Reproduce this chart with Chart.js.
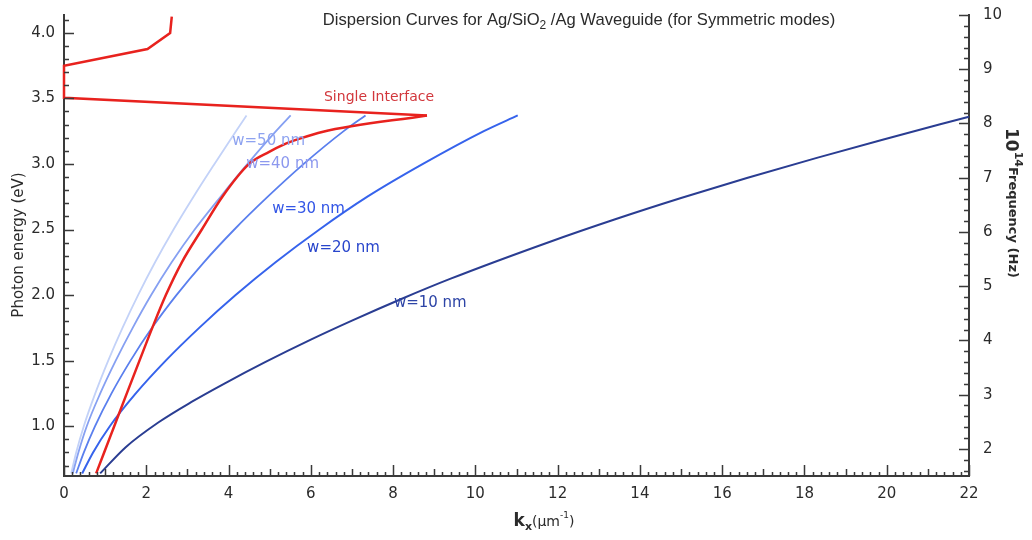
<!DOCTYPE html>
<html>
<head>
<meta charset="utf-8">
<script src="https://cdn.jsdelivr.net/npm/chart.js@4.4.1/dist/chart.umd.min.js"></script>
<style>
  html, body { margin: 0; padding: 0; background: #fff; }
  canvas { display: block; }
</style>
</head>
<body>
<canvas id="dispersion" width="1032" height="540"></canvas>
<script>
// photon energy (eV) -> frequency in units of 1e14 Hz
const EV_TO_FREQ = 2.418;
const freqMin = 1.5;
const freqMax = 10;

const xTicks = [0, 2, 4, 6, 8, 10, 12, 14, 16, 18, 20, 22];
const energyTicks = [1.0, 1.5, 2.0, 2.5, 3.0, 3.5, 4.0];
const freqTicks = [2, 3, 4, 5, 6, 7, 8, 9, 10];

// symmetric mode, core width 10 nm
const kW10 = [0.88, 1.5, 2.3, 3.1, 3.9, 4.9, 6.0, 7.0, 8.2, 9.4, 11.8, 13.4, 15.0, 16.6, 18.3, 19.9, 22.0];
const eW10 = [0.64, 0.84, 1.03, 1.185, 1.325, 1.49, 1.66, 1.805, 1.97, 2.125, 2.405, 2.578, 2.74, 2.893, 3.046, 3.185, 3.36];

// the wider cores share the same energy samples
const eWide = [0.64, 0.8, 1.0, 1.25, 1.5, 1.75, 2.0, 2.25, 2.5, 2.75, 3.0, 3.25, 3.37];
const kW20 = [0.442, 0.707, 1.114, 1.745, 2.473, 3.286, 4.172, 5.143, 6.209, 7.376, 8.726, 10.206, 11.03];
const kW30 = [0.296, 0.483, 0.755, 1.155, 1.617, 2.138, 2.733, 3.400, 4.141, 4.954, 5.828, 6.799, 7.330];
const kW40 = [0.214, 0.350, 0.553, 0.881, 1.257, 1.670, 2.119, 2.617, 3.177, 3.806, 4.461, 5.153, 5.510];
const kW50 = [0.175, 0.296, 0.481, 0.760, 1.075, 1.422, 1.801, 2.214, 2.663, 3.148, 3.658, 4.180, 4.437];

// single Ag/SiO2 interface: bound branch, then the back-bending part above it
const kSingleLow = [0.782, 0.976, 1.221, 1.527, 1.835, 2.146, 2.476, 2.864, 3.350, 3.850, 4.500, 4.988, 5.352, 5.716, 6.274, 8.823];
const eSingleLow = [0.64, 0.8, 1.0, 1.25, 1.5, 1.75, 2.0, 2.25, 2.5, 2.75, 3.0, 3.092, 3.149, 3.191, 3.244, 3.37];
const kSingleHigh = [8.823, 0, 0, 2.03, 2.58, 2.62];
const eSingleHigh = [3.37, 3.504, 3.748, 3.876, 3.998, 4.124];

const pts = (ks, es) => ks.map((k, i) => ({ x: k, y: es[i] }));

const curve = (data, color, width, smooth) => ({
  data: data,
  borderColor: color,
  borderWidth: width,
  pointRadius: 0,
  fill: false,
  clip: 8,
  tension: smooth ? 0.4 : 0,
  cubicInterpolationMode: smooth ? 'monotone' : 'default'
});

const curveLabels = [
  { text: 'Single Interface', k: 6.32, e: 3.504, color: '#d2373c', size: 14 },
  { text: 'w=50 nm', k: 4.09, e: 3.176, color: '#8ea3f0', size: 15 },
  { text: 'w=40 nm', k: 4.43, e: 2.996, color: '#8c98ee', size: 15 },
  { text: 'w=30 nm', k: 5.06, e: 2.656, color: '#3356e6', size: 15 },
  { text: 'w=20 nm', k: 5.91, e: 2.359, color: '#2946cc', size: 15 },
  { text: 'w=10 nm', k: 8.02, e: 1.939, color: '#2d44a6', size: 15 }
];

// draws a run of text pieces with their own fonts and baseline shifts
function drawRuns(ctx, runs, x, y, align) {
  let total = 0;
  runs.forEach(r => {
    ctx.font = r.font;
    r.w = ctx.measureText(r.t).width;
    total += r.w;
  });
  let cx = align === 'center' ? x - total / 2 : x;
  ctx.textAlign = 'left';
  ctx.textBaseline = 'alphabetic';
  runs.forEach(r => {
    ctx.font = r.font;
    ctx.fillText(r.t, cx, y + (r.dy || 0));
    cx += r.w;
  });
}

const decor = {
  id: 'decor',
  afterDraw(chart) {
    const { ctx, chartArea: area, scales } = chart;
    const { x, y, y2 } = scales;
    ctx.save();

    // inward ticks on all three axes
    ctx.strokeStyle = '#3a3a3a';
    ctx.lineWidth = 1.5;
    ctx.beginPath();
    for (let i = 0; i <= 110; i++) {
      const px = Math.round(x.getPixelForValue(i / 5)) + 0.5;
      const len = i % 10 === 0 ? 11 : (i % 5 === 0 ? 7 : 4);
      ctx.moveTo(px, area.bottom);
      ctx.lineTo(px, area.bottom - len);
    }
    for (let i = 7; i <= 41; i++) {
      const py = Math.round(y.getPixelForValue(i / 10)) + 0.5;
      const len = i % 5 === 0 ? 10 : 5;
      ctx.moveTo(area.left, py);
      ctx.lineTo(area.left + len, py);
    }
    for (let i = 8; i <= 50; i++) {
      const py = Math.round(y2.getPixelForValue(i / 5)) + 0.5;
      const len = i % 5 === 0 ? 10 : 5;
      ctx.moveTo(area.right, py);
      ctx.lineTo(area.right - len, py);
    }
    ctx.stroke();

    // curve annotations
    ctx.textAlign = 'left';
    ctx.textBaseline = 'middle';
    curveLabels.forEach(l => {
      ctx.font = l.size + 'px "DejaVu Sans"';
      ctx.fillStyle = l.color;
      ctx.fillText(l.text, x.getPixelForValue(l.k), y.getPixelForValue(l.e));
    });

    // title
    ctx.fillStyle = '#2b2b2b';
    const tf = '16.6px "Liberation Sans"';
    drawRuns(ctx, [
      { t: 'Dispersion Curves for Ag/SiO', font: tf },
      { t: '2', font: '12px "Liberation Sans"', dy: 4 },
      { t: ' /Ag Waveguide (for Symmetric modes)', font: tf }
    ], 579, 25, 'center');

    // bottom axis title
    drawRuns(ctx, [
      { t: 'k', font: 'bold 17px "DejaVu Sans"' },
      { t: 'x', font: 'bold 11px "DejaVu Sans"', dy: 4 },
      { t: '(\u00b5m', font: '14px "DejaVu Sans"' },
      { t: '-1', font: '9px "DejaVu Sans"', dy: -8 },
      { t: ')', font: '14px "DejaVu Sans"' }
    ], 544, 526, 'center');

    // left axis title
    ctx.save();
    ctx.translate(19, 245);
    ctx.rotate(-Math.PI / 2);
    ctx.font = '15px "DejaVu Sans"';
    ctx.textAlign = 'center';
    ctx.textBaseline = 'middle';
    ctx.fillText('Photon energy (eV)', 0, 0);
    ctx.restore();

    // right axis title, reading downwards
    ctx.save();
    ctx.translate(1006, 128);
    ctx.rotate(Math.PI / 2);
    drawRuns(ctx, [
      { t: '10', font: 'bold 17px "DejaVu Sans"' },
      { t: '14', font: 'bold 11px "DejaVu Sans"', dy: -9 },
      { t: 'Frequency (Hz)', font: 'bold 13px "DejaVu Sans"', dy: -3 }
    ], 0, 0, 'left');
    ctx.restore();

    ctx.restore();
  }
};

const tickFont = { family: 'DejaVu Sans', size: 15 };

// fixed axis band sizes; end labels may overhang instead of shrinking the plot
const fixSize = (prop, size) => s => {
  s[prop] = size;
  s.paddingTop = 0;
  s.paddingBottom = 0;
  s.paddingLeft = 0;
  s.paddingRight = 0;
};

new Chart(document.getElementById('dispersion'), {
  type: 'line',
  data: {
    datasets: [
      curve(pts(kSingleLow, eSingleLow), '#e8221e', 2.5, true),
      curve(pts(kSingleHigh, eSingleHigh), '#e8221e', 2.5, false),
      curve(pts(kW10, eW10), '#2a3d92', 2, true),
      curve(pts(kW20, eWide), '#3663ec', 2, true),
      curve(pts(kW30, eWide), '#5a7fee', 1.8, true),
      curve(pts(kW40, eWide), '#86a0f2', 1.8, true),
      curve(pts(kW50, eWide), '#c3d2f8', 1.8, true)
    ]
  },
  options: {
    responsive: false,
    animation: false,
    events: [],
    layout: { padding: { top: 15, left: 0, right: 0, bottom: 0 } },
    plugins: {
      legend: { display: false },
      tooltip: { enabled: false },
      title: { display: false }
    },
    scales: {
      x: {
        type: 'linear',
        min: 0,
        max: 22,
        grid: { display: false, drawTicks: false },
        border: { display: true, color: '#3a3a3a', width: 2 },
        ticks: { color: '#2b2b2b', font: tickFont, padding: 9, autoSkip: false, maxRotation: 0 },
        afterBuildTicks: s => { s.ticks = xTicks.map(v => ({ value: v })); },
        afterFit: fixSize('height', 64)
      },
      y: {
        type: 'linear',
        position: 'left',
        min: freqMin / EV_TO_FREQ,
        max: freqMax / EV_TO_FREQ,
        grid: { display: false, drawTicks: false },
        border: { display: true, color: '#3a3a3a', width: 2 },
        ticks: { color: '#2b2b2b', font: tickFont, padding: 9, autoSkip: false, callback: v => v.toFixed(1) },
        afterBuildTicks: s => { s.ticks = energyTicks.map(v => ({ value: v })); },
        afterFit: fixSize('width', 64)
      },
      y2: {
        type: 'linear',
        position: 'right',
        min: freqMin,
        max: freqMax,
        grid: { display: false, drawTicks: false },
        border: { display: true, color: '#3a3a3a', width: 2 },
        ticks: { color: '#2b2b2b', font: tickFont, padding: 14, autoSkip: false, callback: v => String(v) },
        afterBuildTicks: s => { s.ticks = freqTicks.map(v => ({ value: v })); },
        afterFit: fixSize('width', 63)
      }
    }
  },
  plugins: [decor]
});
</script>
</body>
</html>
